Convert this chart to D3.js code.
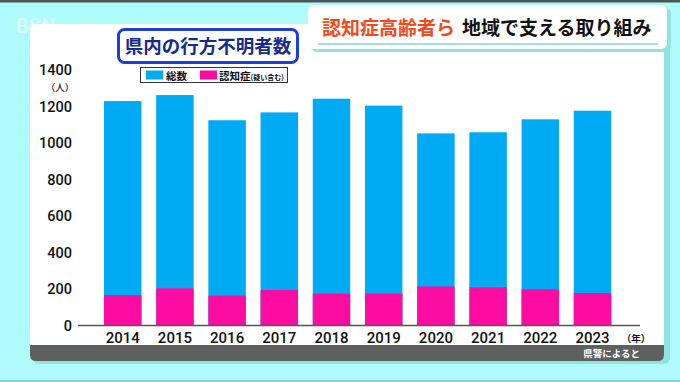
<!DOCTYPE html>
<html><head><meta charset="utf-8">
<script src="https://cdn.jsdelivr.net/npm/d3@7"></script>
<style>
html,body{margin:0;padding:0;background:#aefbfa;}
svg{display:block;}
</style></head>
<body>
<svg id="c" width="680" height="382"></svg>
<script>
const years = ["2014","2015","2016","2017","2018","2019","2020","2021","2022","2023"];
const totalMissing = [1227,1260,1122,1165,1240,1202,1050,1056,1127,1174];
const dementia = [164,201,161,192,172,172,211,207,196,175];
const yTicks = [0,200,400,600,800,1000,1200,1400];
const seriesNames = ["総数","認知症"];
const seriesColors = ["#00abf4","#fc0ca0"];

const svg = d3.select("#c");
const jp = "'Noto Sans CJK JP','Noto Sans CJK SC',sans-serif";
const num = "Roboto,'Liberation Sans',Arial,sans-serif";

// background
svg.append("rect").attr("width",680).attr("height",382).attr("fill","#aefbfa");
svg.append("rect").attr("width",680).attr("height",2.5).attr("fill","#4a5555");
svg.append("rect").attr("y",380).attr("width",680).attr("height",2).attr("fill","#7fd6d2");

// watermark logo
svg.append("text").attr("x",16).attr("y",33).attr("font-family",num).attr("font-weight",700)
  .attr("font-size",20).attr("fill","#ffffff").attr("opacity",0.5).text("BSN");

// panel shadow + panel
svg.append("rect").attr("x",33).attr("y",27).attr("width",637).attr("height",337).attr("rx",6)
  .attr("fill","#8fe3e0");
svg.append("rect").attr("x",30).attr("y",24).attr("width",634).attr("height",337).attr("rx",5)
  .attr("fill","#ffffff");

// header box
svg.append("rect").attr("x",311).attr("y",8).attr("width",360).attr("height",44).attr("rx",6).attr("fill","#8fe3e0");
svg.append("rect").attr("x",308).attr("y",5).attr("width",359).attr("height",44).attr("rx",6).attr("fill","#ffffff");
svg.append("rect").attr("x",318).attr("y",43).attr("width",340).attr("height",2).attr("fill","#a8dcef");
const ht = svg.append("text").attr("x",322).attr("y",35).attr("font-family",jp).attr("font-weight",700)
  .attr("font-size",19);
ht.append("tspan").attr("fill","#f24a1c").text("認知症高齢者ら");
ht.append("tspan").attr("fill","#111").attr("dx",7).text("地域で支える取り組み");

// chart title box
svg.append("rect").attr("x",118.5).attr("y",29.5).attr("width",179).attr("height",33).attr("rx",6)
  .attr("fill","#fff").attr("stroke","#1c3fd6").attr("stroke-width",3);
svg.append("text").attr("x",208).attr("y",53).attr("text-anchor","middle").attr("font-family",jp)
  .attr("font-weight",700).attr("font-size",18.5).attr("fill","#152b8e").text("県内の行方不明者数");

// legend
svg.append("rect").attr("x",140.5).attr("y",67.5).attr("width",147).attr("height",15)
  .attr("fill","#fff").attr("stroke","#333").attr("stroke-width",1);
const leg = [{x:146},{x:200}];
leg.forEach((l,i)=>{
  svg.append("rect").attr("x",l.x).attr("y",70.5).attr("width",17).attr("height",9).attr("fill",seriesColors[i]);
});
svg.append("text").attr("x",166).attr("y",79.5).attr("font-family",jp).attr("font-weight",700)
  .attr("font-size",10.5).attr("fill","#111").text(seriesNames[0]);
const lt = svg.append("text").attr("x",219).attr("y",79.5).attr("font-family",jp).attr("font-weight",700)
  .attr("font-size",10.5).attr("fill","#111");
lt.append("tspan").text(seriesNames[1]);
lt.append("tspan").attr("font-size",7).text("(疑い含む)");

// scales
const y = d3.scaleLinear().domain([0,1400]).range([325,69.5]);
const x = d3.scaleBand().domain(years).range([96.6,618.6]).paddingInner(0.282).paddingOuter(0.141);

// bars
svg.append("g").selectAll("rect").data(years).join("rect")
  .attr("x",d=>x(d)).attr("width",x.bandwidth())
  .attr("y",(d,i)=>y(totalMissing[i])).attr("height",(d,i)=>y(0)-y(totalMissing[i]))
  .attr("fill",seriesColors[0]);
svg.append("g").selectAll("rect").data(years).join("rect")
  .attr("x",d=>x(d)).attr("width",x.bandwidth())
  .attr("y",(d,i)=>y(dementia[i])).attr("height",(d,i)=>y(0)-y(dementia[i]))
  .attr("fill",seriesColors[1]);

// baseline
svg.append("line").attr("x1",78).attr("x2",640).attr("y1",y(0)+0.5).attr("y2",y(0)+0.5)
  .attr("stroke","#555").attr("stroke-width",1.5);

// y axis labels
const yAxis = d3.axisLeft(y).tickValues(yTicks).tickFormat(d3.format("d")).tickSize(0).tickPadding(0);
const ga = svg.append("g").attr("transform","translate(72,0)").call(yAxis);
ga.select(".domain").remove();
ga.selectAll("text").attr("font-family",num).attr("font-weight",500).attr("font-size",14.5)
  .attr("fill","#111").attr("dy","0.36em");
svg.append("text").attr("x",60).attr("y",91).attr("text-anchor","middle").attr("font-family",jp)
  .attr("font-weight",500).attr("font-size",9.5).attr("fill","#111").text("（人）");

// x axis labels
const xAxis = d3.axisBottom(x).tickSize(0).tickPadding(0);
const gx = svg.append("g").attr("transform","translate(0,"+(y(0)+4)+")").call(xAxis);
gx.select(".domain").remove();
gx.selectAll("text").attr("font-family",num).attr("font-weight",500).attr("font-size",15)
  .attr("fill","#111").attr("dy","0.9em");
svg.append("text").attr("x",636).attr("y",341.5).attr("text-anchor","middle").attr("font-family",jp)
  .attr("font-weight",700).attr("font-size",9.5).attr("fill","#111").text("（年）");

// footer bar
svg.append("path").attr("d","M30,345 H664 V355 Q664,361 658,361 H36 Q30,361 30,355 Z").attr("fill","#5e6060");
svg.append("text").attr("x",640).attr("y",356.5).attr("text-anchor","end").attr("font-family",jp)
  .attr("font-weight",700).attr("font-size",9.5).attr("fill","#fff").text("県警によると");
</script>
</body></html>
